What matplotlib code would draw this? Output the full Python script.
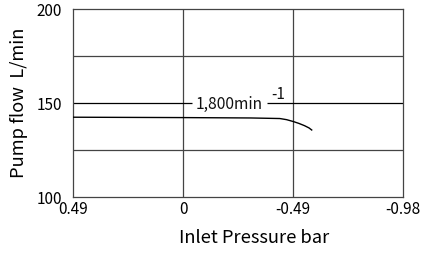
import matplotlib
matplotlib.use("Agg")
import matplotlib.pyplot as plt

plt.rcParams['font.family'] = ['Noto Sans CJK JP', 'DejaVu Sans']

# Data
pressure = [0.49, 0.0, -0.30, -0.43, -0.46, -0.49, -0.515, -0.54, -0.56, -0.572]
flow = [142.6, 142.4, 142.2, 141.9, 141.3, 140.3, 139.3, 138.1, 136.9, 135.8]
x_ticks = [0.49, 0.0, -0.49, -0.98]
x_tick_labels = ["0.49", "0", "-0.49", "-0.98"]
y_ticks = [100, 150, 200]
y_grid = [125, 175]
speed_label = "1,800min"
speed_exp = "-1"

fig = plt.figure(figsize=(4.27, 2.54), dpi=100)
ax = fig.add_axes([0.1717, 0.2232, 0.7728, 0.7402])

ax.set_xlim(0.49, -0.98)
ax.set_ylim(100, 200)

grid_c = "#444444"
for y in y_grid:
    ax.axhline(y, color=grid_c, lw=0.9, zorder=1)
for x in x_ticks[1:-1]:
    ax.axvline(x, color=grid_c, lw=0.9, zorder=1)
# 150 line interrupted by label
ax.hlines(150, 0.49, -0.039, color="black", lw=0.9, zorder=1)
ax.hlines(150, -0.373, -0.98, color="black", lw=0.9, zorder=1)
ax.text(-0.056, 149.6, speed_label, fontsize=11.2, va="center", ha="left", color="#111111")
ax.text(-0.392, 149.9, speed_exp, fontsize=11, va="bottom", ha="left", color="#111111")

ax.plot(pressure, flow, color="black", lw=1.0, zorder=3)

ax.set_xticks(x_ticks)
ax.set_xticklabels(x_tick_labels, fontsize=11)
ax.set_yticks(y_ticks)
ax.set_yticklabels([str(v) for v in y_ticks], fontsize=11)
ax.tick_params(axis="both", length=0)
ax.tick_params(axis="x", pad=3)
ax.tick_params(axis="y", pad=8)

for s in ax.spines.values():
    s.set_color(grid_c)
    s.set_linewidth(0.9)

ax.set_xlabel("Inlet Pressure bar", fontsize=13.2)
ax.xaxis.set_label_coords(0.5476, -0.17)
ax.set_ylabel("Pump flow  L/min", fontsize=13.2, labelpad=6)

fig.savefig("out.png", dpi=100)
